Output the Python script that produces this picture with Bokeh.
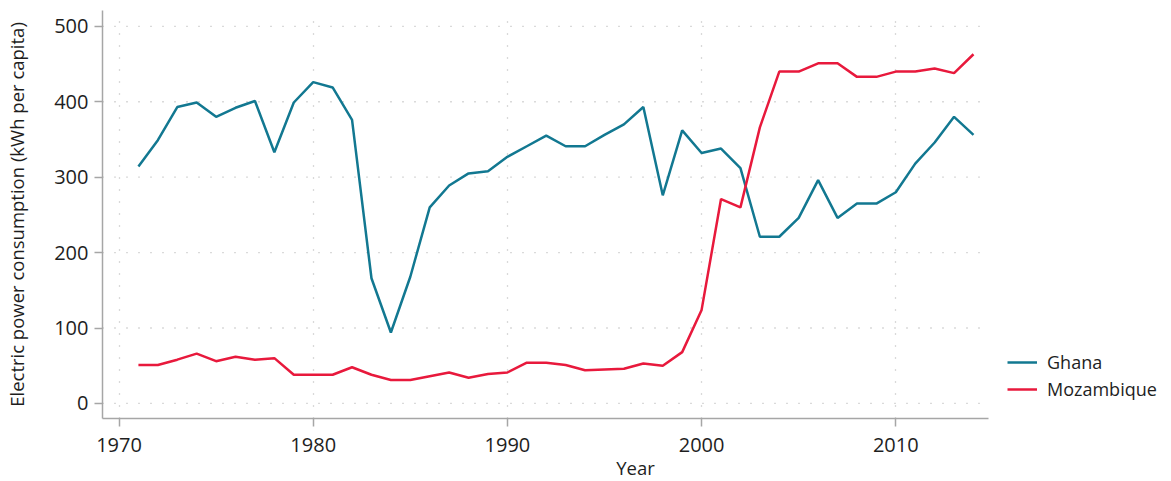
from bokeh.plotting import figure
from bokeh.models import ColumnDataSource, Legend, LegendItem, FixedTicker, Range1d
from bokeh.embed import file_html
from bokeh.resources import INLINE

years = list(range(1971, 2015))
ghana = [314, 349, 393, 399, 380, 392, 401, 333, 399, 426, 419, 376, 166, 94,
         168, 260, 289, 305, 308, 327, 341, 355, 341, 341, 356, 370, 393, 276,
         362, 332, 338, 312, 221, 221, 246, 296, 246, 265, 265, 280, 318, 346,
         380, 356]
mozambique = [51, 51, 58, 66, 56, 62, 58, 60, 38, 38, 38, 48, 38, 31,
              31, 36, 41, 34, 39, 41, 54, 54, 51, 44, 45, 46, 53, 50,
              68, 124, 271, 260, 366, 440, 440, 451, 451, 433, 433, 440, 440, 444,
              438, 463]
series_names = ["Ghana", "Mozambique"]
series_colors = ["#127891", "#e8193c"]
x_ticks = [1970, 1980, 1990, 2000, 2010]
y_ticks = [0, 100, 200, 300, 400, 500]

FONT = "Open Sans"
TXT = "#1e1e1e"
AX = "#a6a6a6"
GRID = "#b4b4b4"

X0, X1 = 1969.15, 2014.75          # extent of the axis area
XEND = X0 + 1066 / 19.42           # frame extends right to hold the legend

p = figure(frame_width=1066, frame_height=408, output_backend="svg",
           toolbar_location=None,
           x_range=Range1d(X0, XEND), y_range=Range1d(-20, 521),
           min_border_left=102, min_border_right=0, min_border_top=10,
           min_border_bottom=0)
p.outline_line_color = None
p.background_fill_color = "white"

# horizontal dotted grid limited to the axis extent
p.segment(x0=[X0] * len(y_ticks), x1=[X1] * len(y_ticks), y0=y_ticks, y1=y_ticks,
          line_color=GRID, line_dash="1 11", line_width=1.3)

src = ColumnDataSource(dict(year=years, ghana=ghana, moz=mozambique))
r1 = p.line("year", "ghana", source=src, line_color=series_colors[0], line_width=2.5)
r2 = p.line("year", "moz", source=src, line_color=series_colors[1], line_width=2.5)

for ax in (p.xaxis[0], p.yaxis[0]):
    ax.axis_line_color = AX
    ax.axis_line_width = 1.5
    ax.major_tick_line_color = AX
    ax.major_tick_line_width = 1.5
    ax.major_tick_out = 8
    ax.major_tick_in = 0
    ax.minor_tick_line_color = None
    ax.major_label_text_font = FONT
    ax.major_label_text_font_size = "20px"
    ax.major_label_text_color = TXT
    ax.axis_label_text_font = FONT
    ax.axis_label_text_font_size = "18.5px"
    ax.axis_label_text_font_style = "normal"
    ax.axis_label_text_color = TXT

p.xaxis.ticker = FixedTicker(ticks=x_ticks)
p.yaxis.ticker = FixedTicker(ticks=y_ticks)
p.xaxis.bounds = (X0, X1)
p.xaxis.axis_label = "Year"
p.yaxis.axis_label = "Electric power consumption (kWh per capita)"
p.xaxis.major_label_standoff = 11
p.yaxis.major_label_standoff = 6
p.xaxis.axis_label_standoff = 0
p.yaxis.axis_label_standoff = 22

p.ygrid.grid_line_color = None
p.xgrid.grid_line_color = GRID
p.xgrid.grid_line_dash = "1 11"
p.xgrid.grid_line_width = 1.3

legend = Legend(items=[LegendItem(label=series_names[0], renderers=[r1]),
                       LegendItem(label=series_names[1], renderers=[r2])],
                location=(905, 17), orientation="vertical",
                margin=0, padding=0, spacing=3, glyph_width=30, glyph_height=20,
                label_height=20, label_standoff=10,
                border_line_color=None, background_fill_alpha=0,
                label_text_font=FONT, label_text_font_size="18px",
                label_text_color=TXT)
p.add_layout(legend, "center")

open("out.html", "w").write(file_html(p, INLINE))
